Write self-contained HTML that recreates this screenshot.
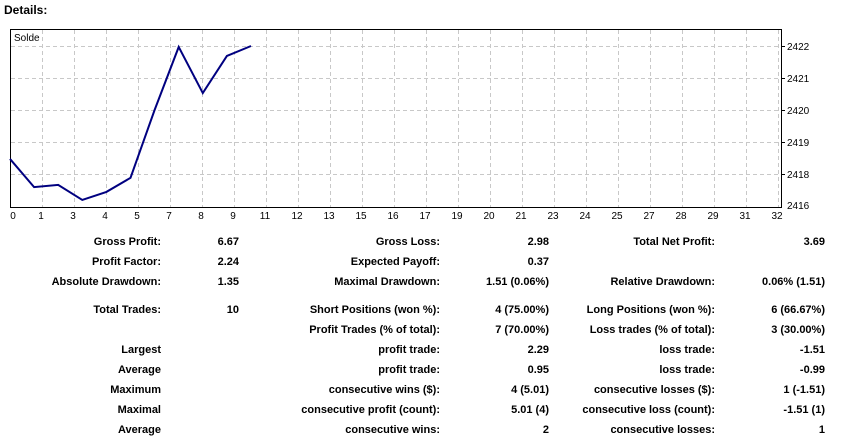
<!DOCTYPE html>
<html><head><meta charset="utf-8">
<style>
body{margin:0;width:845px;height:440px;background:#fff;font-family:"Liberation Sans",sans-serif;position:relative;overflow:hidden}
.t{position:absolute;font-size:11px;font-weight:bold;color:#000;white-space:nowrap;line-height:13px}
.r{text-align:right}
</style></head>
<body>
<div class="t" style="left:4px;top:4px;font-size:12px">Details:</div>
<svg id="chart" width="845" height="225" style="position:absolute;left:0;top:0"></svg>
<div id="stats"></div>
<script>
const trades=[0,1,2,3,4,5,6,7,8,9,10];
const balance=[2418.47,2417.59,2417.66,2417.19,2417.44,2417.88,2420.0,2421.97,2420.53,2421.69,2422.0];
const yTicks=[2422,2421,2420,2419,2418];
const yBottomLabel="2416";
const xLabels=["0","1","3","4","5","7","8","9","11","12","13","15","16","17","19","20","21","23","24","25","27","28","29","31","32"];
const NS="http://www.w3.org/2000/svg";
const svg=document.getElementById('chart');
const L=10,T=29,R=781,B=207;
const xs=i=>L+i*24.1;
const ys=v=>46+(2422-v)*32;
function mk(tag,attrs){const e=document.createElementNS(NS,tag);for(const k in attrs)e.setAttribute(k,attrs[k]);svg.appendChild(e);return e;}
const frame=mk('rect',{x:L+0.5,y:T+0.5,width:R-L,height:B-T,fill:'#fff',stroke:'#000','stroke-width':1});


yTicks.forEach(v=>{
  const g=mk('line',{x1:L+1,x2:R,y1:ys(v)+0.5,y2:ys(v)+0.5,stroke:'#c8c8c8','stroke-dasharray':'4,3'});
  
  
  const tk=mk('line',{x1:R,x2:R+4,y1:ys(v)+0.5,y2:ys(v)+0.5,stroke:'#000'});
  
  
  const t=mk('text',{x:R+6,y:ys(v)+4,'font-size':10,'font-family':'Liberation Sans, sans-serif'});
  t.textContent=v;
  
  
});
const bl=mk('text',{x:R+6,y:B+2,'font-size':10,'font-family':'Liberation Sans, sans-serif'});
bl.textContent=yBottomLabel;


xLabels.forEach((lab,k)=>{
  const x=L+k*32;
  if(k>0&&x<R){
    const g=mk('line',{x1:x+0.5,x2:x+0.5,y1:T+1,y2:B,stroke:'#c8c8c8','stroke-dasharray':'4,3'});
    
    
  }
  const t=mk('text',{x:(k===0?13:x-1),y:219,'font-size':10,'text-anchor':'middle','font-family':'Liberation Sans, sans-serif'});
  t.textContent=lab;
  
  
});
const sl=mk('text',{x:14,y:41,'font-size':10,'font-family':'Liberation Sans, sans-serif'});
sl.textContent='Solde';


const pl=mk('polyline',{points:trades.map((t,i)=>xs(t)+','+ys(balance[i])).join(' '),fill:'none',stroke:'#000080','stroke-width':2,'stroke-linejoin':'miter'});



const rows=[
 [241,"Gross Profit:","6.67","Gross Loss:","2.98","Total Net Profit:","3.69"],
 [261,"Profit Factor:","2.24","Expected Payoff:","0.37","",""],
 [281,"Absolute Drawdown:","1.35","Maximal Drawdown:","1.51 (0.06%)","Relative Drawdown:","0.06% (1.51)"],
 [309,"Total Trades:","10","Short Positions (won %):","4 (75.00%)","Long Positions (won %):","6 (66.67%)"],
 [329,"","","Profit Trades (% of total):","7 (70.00%)","Loss trades (% of total):","3 (30.00%)"],
 [349,"Largest","","profit trade:","2.29","loss trade:","-1.51"],
 [369,"Average","","profit trade:","0.95","loss trade:","-0.99"],
 [389,"Maximum","","consecutive wins ($):","4 (5.01)","consecutive losses ($):","1 (-1.51)"],
 [409,"Maximal","","consecutive profit (count):","5.01 (4)","consecutive loss (count):","-1.51 (1)"],
 [429,"Average","","consecutive wins:","2","consecutive losses:","1"]
];
const rights=[161,239,440,549,715,825];
const names=['label-col1','value-col1','label-col2','value-col2','label-col3','value-col3'];
const st=document.getElementById('stats');
rows.forEach(r=>{
  for(let c=0;c<6;c++){
    if(!r[c+1])continue;
    const d=document.createElement('div');
    d.className='t r';
    d.style.right=(845-rights[c])+'px';
    d.style.top=(r[0]-5)+'px';
    d.textContent=r[c+1];
    
    
    st.appendChild(d);
  }
});
</script>
</body></html>
